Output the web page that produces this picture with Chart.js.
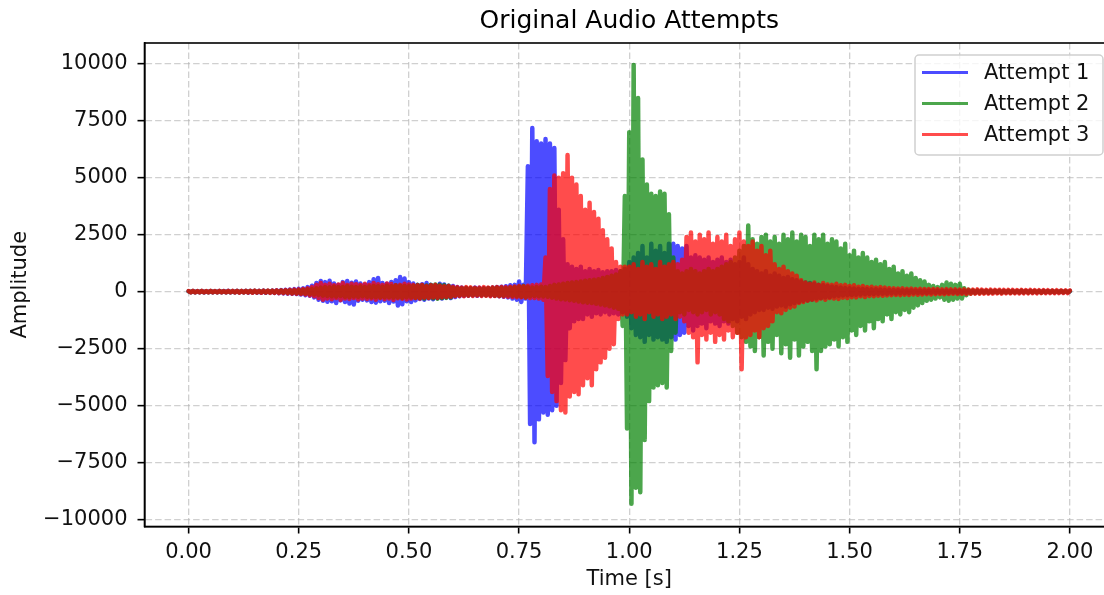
<!DOCTYPE html>
<html>
<head>
<meta charset="utf-8">
<title>Original Audio Attempts</title>
<script src="https://cdn.jsdelivr.net/npm/chart.js@4"></script>
<style>
    html, body { margin: 0; padding: 0; background: #fff; overflow: hidden; }
</style>
</head>
<body>
<canvas id="audioChart" width="1116" height="595"></canvas>
<script>
/* Waveform overview of three recorded attempts */

// Envelope resolution (s): peaks sit on the step, troughs half a step later
const sampleStep = 0.01;

const xTicks = [0, 0.25, 0.5, 0.75, 1, 1.25, 1.5, 1.75, 2];
const yTicks = [-10000, -7500, -5000, -2500, 0, 2500, 5000, 7500, 10000];
const seriesLabels = ['Attempt 1', 'Attempt 2', 'Attempt 3'];

// Attempt 1 envelope, one row per 0.1 s
const attempt1Peaks = [
    20, 30, 25, 30, 20, 30, 25, 30, 30, 35,
    30, 35, 30, 40, 35, 40, 35, 45, 40, 50,
    60, 70, 80, 90, 110, 130, 150, 200, 260, 380,
    470, 420, 480, 360, 300, 420, 470, 390, 450, 360,
    320, 420, 550, 600, 380, 350, 430, 500, 640, 580,
    420, 360, 300, 330, 380, 300, 280, 350, 320, 260,
    250, 200, 180, 160, 150, 180, 170, 150, 160, 180,
    200, 220, 240, 280, 300, 450, 300, 5500, 7180, 6600,
    6500, 6700, 6500, 6300, 3600, 2300, 1200, 1100, 1000, 1100,
    900, 1000, 900, 950, 850, 900, 900, 950, 900, 1000,
    1300, 1500, 1700, 2000, 1500, 2100, 1800, 2000, 1700, 2100,
    2100, 2000, 1900, 2000, 1500, 1600, 1500, 1400, 1500, 1300,
    1400, 1500, 1300, 1400, 1200, 1300, 1500, 1200, 1000, 900,
    800, 900, 700, 800, 700, 600, 650, 550, 500, 450,
    400, 380, 350, 300, 280, 250, 220, 200, 180, 160,
    150, 140, 130, 120, 110, 100, 100, 90, 80, 80,
    70, 70, 60, 60, 60, 50, 50, 50, 50, 50,
    45, 40, 45, 40, 40, 45, 40, 40, 35, 40,
    35, 40, 35, 35, 40, 35, 30, 35, 30, 35,
    30, 35, 30, 30, 35, 30, 30, 25, 30, 25,
    25
];
const attempt1Troughs = [
    -20, -30, -25, -30, -25, -30, -30, -25, -30, -35,
    -30, -35, -30, -40, -35, -40, -40, -45, -40, -50,
    -60, -70, -80, -90, -100, -120, -150, -180, -250, -350,
    -400, -440, -420, -500, -380, -450, -520, -560, -400, -350,
    -380, -450, -480, -420, -400, -500, -430, -610, -550, -420,
    -450, -380, -320, -350, -300, -330, -280, -300, -250, -280,
    -230, -200, -180, -170, -160, -180, -160, -150, -170, -180,
    -200, -220, -250, -300, -350, -450, -300, -5800, -6600, -5600,
    -5300, -5400, -5200, -5000, -4000, -3000, -1600, -1300, -1200, -1200,
    -1000, -1100, -950, -1000, -900, -1000, -950, -1000, -900, -1100,
    -1600, -1900, -2000, -2200, -1900, -2100, -2000, -2100, -2200, -2000,
    -2100, -1900, -1800, -1500, -1700, -1500, -1400, -1600, -1300, -1400,
    -1500, -1300, -1400, -1200, -1300, -1100, -1200, -1000, -900, -800,
    -800, -700, -750, -650, -600, -650, -550, -500, -450, -400,
    -380, -350, -300, -280, -250, -230, -200, -180, -160, -150,
    -140, -130, -120, -110, -100, -100, -90, -80, -80, -70,
    -70, -60, -60, -60, -50, -50, -50, -50, -45, -45,
    -40, -45, -40, -40, -45, -40, -40, -35, -40, -35,
    -35, -40, -35, -30, -35, -35, -30, -35, -30, -30,
    -30, -30, -35, -30, -30, -25, -30, -25, -30, -25,
    -25
];

// Attempt 2 envelope
const attempt2Peaks = [
    20, 25, 20, 25, 20, 25, 20, 25, 20, 25,
    25, 30, 25, 30, 30, 35, 30, 35, 40, 40,
    40, 50, 50, 60, 60, 70, 80, 100, 120, 150,
    180, 200, 190, 220, 200, 210, 240, 220, 200, 230,
    210, 230, 250, 240, 220, 260, 240, 280, 260, 250,
    240, 260, 300, 280, 270, 300, 320, 300, 280, 260,
    180, 160, 150, 170, 160, 150, 140, 150, 160, 170,
    180, 170, 160, 180, 200, 220, 250, 200, 180, 200,
    220, 200, 250, 300, 320, 350, 380, 400, 420, 450,
    480, 500, 520, 550, 600, 650, 700, 750, 900, 4200,
    7000, 9950, 8500, 5800, 4700, 4300, 4200, 4400, 4300, 3400,
    1500, 900, 800, 900, 1000, 900, 800, 900, 1000, 900,
    1000, 1100, 1200, 1300, 1500, 1800, 2000, 2900, 2300, 2100,
    2400, 2500, 2200, 2400, 2100, 2500, 2300, 2600, 2200, 2500,
    2400, 2000, 2500, 2300, 2500, 2100, 2300, 2200, 1900, 2100,
    1600, 1800, 1500, 1700, 1500, 1300, 1400, 1200, 1300, 1000,
    1100, 800, 900, 700, 800, 600, 500, 450, 300, 250,
    200, 300, 400, 350, 300, 350, 150, 80, 60, 60,
    50, 50, 45, 50, 45, 40, 45, 40, 40, 45,
    40, 35, 40, 35, 35, 30, 35, 30, 30, 30,
    25
];
const attempt2Troughs = [
    -20, -25, -20, -25, -25, -20, -25, -20, -25, -25,
    -25, -30, -30, -25, -30, -35, -30, -35, -35, -40,
    -40, -45, -50, -60, -65, -70, -80, -100, -120, -140,
    -170, -190, -200, -210, -190, -220, -230, -210, -220, -200,
    -220, -240, -230, -250, -240, -230, -260, -250, -270, -240,
    -250, -270, -280, -300, -260, -290, -310, -280, -270, -250,
    -170, -160, -150, -160, -150, -140, -150, -160, -150, -170,
    -180, -170, -160, -180, -200, -220, -240, -200, -190, -200,
    -210, -220, -260, -300, -330, -340, -370, -400, -430, -460,
    -480, -500, -530, -560, -600, -640, -700, -750, -1500, -6000,
    -9300, -8600, -8800, -6500, -4800, -4200, -4100, -4000, -4200, -2600,
    -1800, -900, -1000, -800, -900, -1000, -900, -800, -1000, -900,
    -1000, -1200, -1300, -1500, -1800, -2000, -2200, -2400, -2600, -2000,
    -2800, -2200, -2500, -1900, -2700, -2300, -2900, -2100, -2800, -2400,
    -2200, -2600, -3400, -2600, -2400, -2300, -2100, -2400, -2000, -2200,
    -1700, -1900, -1500, -1700, -1300, -1600, -1200, -1300, -1000, -1200,
    -900, -1000, -800, -900, -700, -600, -500, -400, -350, -300,
    -250, -350, -400, -350, -300, -300, -150, -80, -60, -60,
    -50, -50, -45, -45, -50, -40, -45, -40, -40, -40,
    -40, -35, -35, -40, -30, -35, -30, -30, -30, -25,
    -25
];

// Attempt 3 envelope
const attempt3Peaks = [
    30, 35, 30, 35, 30, 35, 30, 35, 30, 35,
    35, 40, 35, 40, 40, 45, 40, 45, 50, 50,
    60, 60, 70, 80, 90, 100, 120, 150, 200, 300,
    380, 300, 350, 280, 320, 380, 300, 350, 330, 300,
    350, 300, 380, 330, 300, 360, 340, 280, 300, 350,
    320, 300, 280, 300, 250, 280, 300, 260, 240, 250,
    220, 200, 180, 200, 190, 170, 180, 200, 180, 190,
    200, 210, 200, 220, 230, 250, 240, 260, 280, 300,
    320, 1500, 4500, 5100, 5000, 5200, 6000, 5000, 4700, 4200,
    3600, 3900, 3500, 3200, 2700, 2300, 1900, 1300, 1100, 1100,
    1100, 1200, 1000, 1300, 1100, 1200, 1000, 1300, 1100, 1200,
    1300, 1200, 1400, 2400, 2600, 2200, 2500, 2300, 2600, 2100,
    2400, 2200, 2500, 2000, 2300, 2600, 2200, 2000, 2200, 1800,
    2000, 1600, 1800, 1200, 1000, 1100, 900, 800, 700, 500,
    400, 350, 400, 300, 380, 320, 300, 350, 280, 300,
    250, 280, 220, 250, 200, 220, 180, 200, 180, 160,
    150, 140, 150, 130, 140, 120, 130, 120, 110, 120,
    110, 100, 110, 100, 100, 90, 100, 90, 90, 100,
    90, 80, 90, 80, 85, 80, 75, 80, 70, 75,
    70, 75, 70, 65, 70, 65, 60, 65, 60, 60,
    55
];
const attempt3Troughs = [
    -30, -35, -30, -35, -30, -30, -35, -30, -35, -30,
    -35, -40, -35, -40, -45, -40, -45, -40, -50, -50,
    -60, -60, -70, -80, -90, -100, -120, -160, -200, -280,
    -350, -300, -330, -280, -360, -300, -320, -280, -340, -300,
    -320, -300, -350, -280, -330, -300, -360, -290, -310, -340,
    -300, -280, -300, -260, -280, -250, -270, -240, -230, -220,
    -200, -190, -200, -180, -190, -170, -190, -180, -200, -190,
    -200, -210, -220, -230, -240, -250, -260, -280, -280, -300,
    -350, -3700, -4400, -4800, -5200, -5300, -4600, -4400, -4500, -4100,
    -3800, -4100, -3400, -3100, -2900, -2500, -2300, -1200, -1000, -1000,
    -900, -1100, -1000, -1200, -900, -1100, -1000, -1200, -1100, -1000,
    -1200, -1100, -1300, -1800, -2000, -3100, -1900, -2100, -1800, -2200,
    -1900, -2100, -1700, -2000, -1800, -3400, -2000, -1900, -1700, -2000,
    -1600, -1500, -1300, -900, -950, -800, -700, -650, -500, -450,
    -400, -350, -380, -300, -350, -280, -300, -320, -260, -280,
    -240, -250, -200, -230, -190, -200, -170, -180, -160, -150,
    -140, -150, -130, -140, -120, -130, -120, -110, -120, -110,
    -100, -110, -100, -90, -100, -90, -100, -90, -85, -90,
    -80, -85, -80, -75, -80, -70, -75, -70, -75, -70,
    -70, -65, -70, -60, -65, -60, -65, -60, -55, -60,
    -55
];

const seriesColors = ['rgba(0, 0, 255, 0.7)', 'rgba(0, 128, 0, 0.7)', 'rgba(255, 0, 0, 0.7)'];
const fontFamily = "'DejaVu Sans', sans-serif";

// Turn an envelope into a dense zigzag so the stroke fills it like raw samples
function envelopeTrace(peaks, troughs) {
    const points = [];
    peaks.forEach((p, i) => {
        const t = i * sampleStep;
        points.push({ x: t, y: p });
        if (i < peaks.length - 1) points.push({ x: t + sampleStep / 2, y: troughs[i] });
    });
    return points;
}

function formatAmplitude(v) {
    return v < 0 ? '\u2212' + Math.abs(v) : String(v);
}

// Box around the plot area, drawn over the traces
const framePlugin = {
    id: 'frame',
    afterDatasetsDraw(chart) {
        const { ctx, chartArea: a } = chart;
        ctx.save();
        ctx.strokeStyle = '#000';
        ctx.lineWidth = 1.6;
        ctx.strokeRect(a.left, a.top, a.right - a.left, a.bottom - a.top);
        ctx.restore();
    }
};

// Legend inside the upper right corner of the plot
const cornerLegend = {
    id: 'cornerLegend',
    afterDraw(chart) {
        const ctx = chart.ctx;
        const box = { x: 915, y: 55, w: 188, h: 100 };
        ctx.save();
        ctx.beginPath();
        ctx.roundRect(box.x, box.y, box.w, box.h, 4);
        ctx.fillStyle = 'rgba(255, 255, 255, 0.8)';
        ctx.fill();
        ctx.strokeStyle = '#d0d0d0';
        ctx.lineWidth = 1.5;
        ctx.stroke();
        ctx.font = '21px ' + fontFamily;
        ctx.textBaseline = 'middle';
        ctx.fillStyle = '#111';
        seriesLabels.forEach((label, i) => {
            const y = 72.5 + i * 31;
            ctx.beginPath();
            ctx.moveTo(922, y);
            ctx.lineTo(968, y);
            ctx.strokeStyle = seriesColors[i];
            ctx.lineWidth = 3.1;
            ctx.stroke();
            ctx.fillText(label, 984, y + 1);
        });
        ctx.restore();
    }
};

const gridStyle = {
    color: 'rgba(176, 176, 176, 0.6)',
    lineWidth: 1.3,
    tickColor: '#000',
    tickWidth: 1.6,
    tickLength: 7
};

const traces = [
    envelopeTrace(attempt1Peaks, attempt1Troughs),
    envelopeTrace(attempt2Peaks, attempt2Troughs),
    envelopeTrace(attempt3Peaks, attempt3Troughs)
];

new Chart(document.getElementById('audioChart'), {
    type: 'line',
    data: {
        datasets: traces.map((points, i) => ({
            label: seriesLabels[i],
            data: points,
            borderColor: seriesColors[i],
            // wide enough that neighbouring strokes of the zigzag merge into one band
            borderWidth: 4.5,
            borderJoinStyle: 'round',
            borderCapStyle: 'round',
            pointRadius: 0,
            tension: 0,
            fill: false,
            order: 3 - i
        }))
    },
    options: {
        responsive: false,
        animation: false,
        layout: { padding: { left: 0, right: 2, top: 0, bottom: 0 } },
        plugins: {
            legend: { display: false },
            tooltip: { enabled: false },
            title: {
                display: true,
                text: 'Original Audio Attempts',
                fullSize: false,
                color: '#000',
                font: { family: fontFamily, size: 25, weight: 'normal' },
                padding: { top: 6, bottom: 7 }
            }
        },
        scales: {
            x: {
                type: 'linear',
                min: -0.1,
                max: 2.1,
                afterBuildTicks: scale => { scale.ticks = xTicks.map(v => ({ value: v })); },
                afterFit: scale => { scale.height = 68.5; },
                grid: gridStyle,
                border: { display: true, color: '#000', width: 1.6, dash: [6.5, 3] },
                ticks: {
                    autoSkip: false,
                    maxRotation: 0,
                    padding: 6,
                    color: '#111',
                    font: { family: fontFamily, size: 21 },
                    callback: v => v.toFixed(2)
                },
                title: {
                    display: true,
                    text: 'Time [s]',
                    color: '#111',
                    font: { family: fontFamily, size: 21 },
                    padding: { top: 0, bottom: 3 }
                }
            },
            y: {
                type: 'linear',
                min: -10300,
                max: 10910,
                afterBuildTicks: scale => { scale.ticks = yTicks.map(v => ({ value: v })); },
                afterFit: scale => { scale.width = 144.5; },
                grid: gridStyle,
                border: { display: true, color: '#000', width: 1.6, dash: [6.5, 3] },
                ticks: {
                    autoSkip: false,
                    padding: 10,
                    color: '#111',
                    font: { family: fontFamily, size: 21 },
                    callback: v => formatAmplitude(v)
                },
                title: {
                    display: true,
                    text: 'Amplitude',
                    color: '#111',
                    font: { family: fontFamily, size: 21 },
                    padding: { top: 8, bottom: 0 }
                }
            }
        }
    },
    plugins: [framePlugin, cornerLegend]
});
</script>
</body>
</html>
